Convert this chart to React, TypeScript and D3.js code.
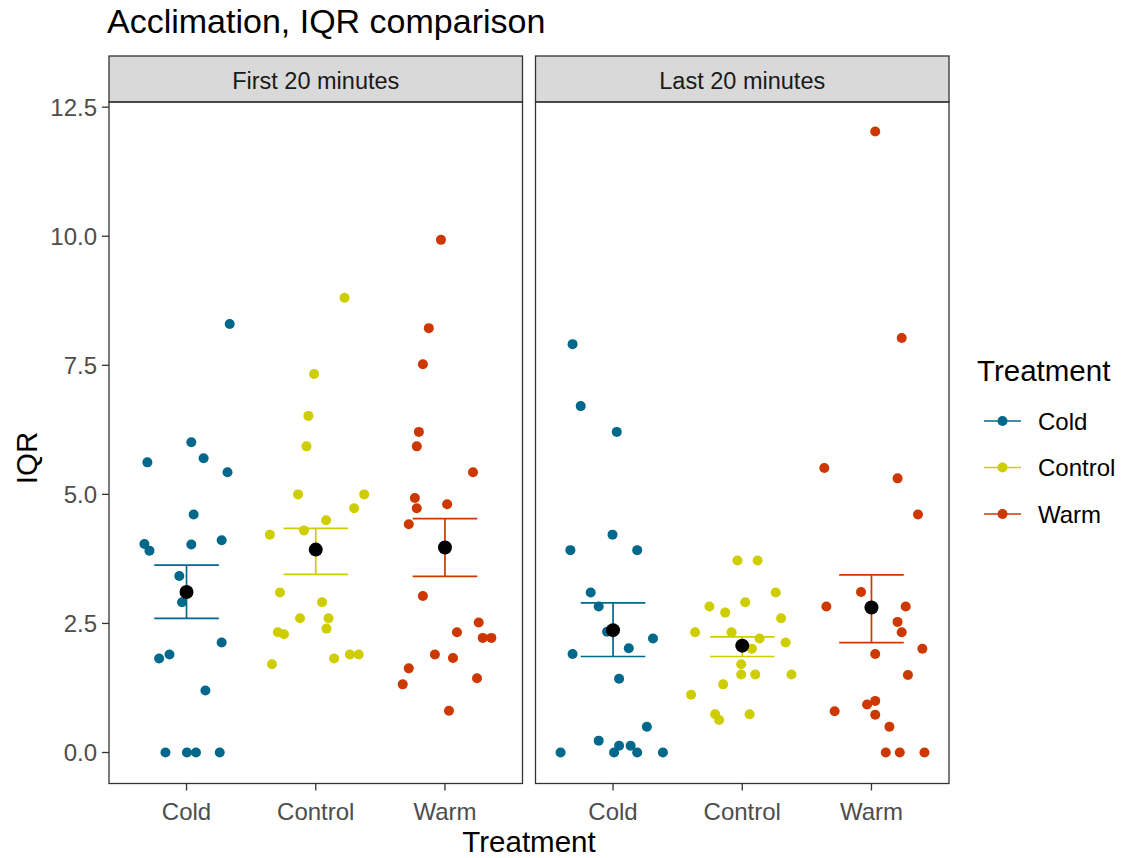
import React from "react";
import * as d3 from "d3";

// treatment levels and facet panels
const treatments = ["Cold", "Control", "Warm"];
const periods = ["First 20 minutes", "Last 20 minutes"];

// IQR values, with horizontal jitter (category units)
const firstColdIQR = [8.3, 6.01, 5.7, 5.62, 5.43, 4.61, 4.04, 3.91, 4.03, 4.11, 3.42, 2.91, 2.13, 1.82, 1.9, 1.2, 0, 0, 0, 0];
const firstColdJitter = [0.334, 0.037, 0.132, -0.303, 0.317, 0.055, -0.326, -0.287, 0.037, 0.272, -0.056, -0.035, 0.272, -0.212, -0.132, 0.146, -0.163, 0.003, 0.073, 0.257];

const firstControlIQR = [8.81, 7.33, 6.52, 5.93, 5.0, 5.0, 4.73, 4.5, 4.3, 4.22, 3.1, 2.91, 2.6, 2.6, 2.4, 2.33, 2.29, 1.82, 1.9, 1.9, 1.71];
const firstControlJitter = [0.223, -0.013, -0.057, -0.072, -0.137, 0.375, 0.297, 0.08, -0.091, -0.355, -0.277, 0.049, -0.122, 0.099, 0.083, -0.293, -0.246, 0.142, 0.264, 0.332, -0.339];

const firstWarmIQR = [9.93, 8.22, 7.52, 6.21, 5.93, 5.43, 4.93, 4.73, 4.81, 4.42, 3.03, 2.52, 2.33, 2.22, 2.22, 1.9, 1.83, 1.63, 1.44, 1.32, 0.81];
const firstWarmJitter = [-0.031, -0.125, -0.171, -0.202, -0.218, 0.217, -0.233, -0.218, 0.017, -0.28, -0.171, 0.261, 0.093, 0.292, 0.359, -0.078, 0.062, -0.28, 0.248, -0.327, 0.031];

const lastColdIQR = [7.91, 6.71, 6.21, 4.22, 3.92, 3.92, 3.1, 2.83, 2.34, 2.21, 2.02, 1.91, 1.43, 0.5, 0.23, 0.13, 0.13, 0, 0, 0, 0];
const lastColdJitter = [-0.313, -0.25, 0.029, -0.004, -0.33, 0.187, -0.173, -0.111, -0.046, 0.309, 0.122, -0.313, 0.047, 0.262, -0.111, 0.047, 0.136, -0.406, 0.008, 0.187, 0.386];

const lastControlIQR = [3.72, 3.72, 3.1, 2.91, 2.83, 2.71, 2.6, 2.33, 2.33, 2.21, 2.13, 2.01, 1.71, 1.51, 1.51, 1.51, 1.32, 1.12, 0.74, 0.63, 0.74];
const lastControlJitter = [-0.037, 0.119, 0.259, 0.023, -0.254, -0.132, 0.301, -0.365, -0.083, 0.134, 0.336, 0.075, -0.008, -0.008, 0.101, 0.381, -0.148, -0.396, -0.21, -0.179, 0.057];

const lastWarmIQR = [12.03, 8.03, 5.51, 5.31, 4.61, 3.11, 2.83, 2.83, 2.53, 2.33, 1.91, 2.01, 1.5, 0.8, 0.93, 1.0, 0.73, 0.5, 0, 0, 0];
const lastWarmJitter = [0.029, 0.234, -0.365, 0.202, 0.36, -0.081, -0.349, 0.265, 0.202, 0.234, 0.029, 0.394, 0.282, -0.285, -0.034, 0.029, 0.029, 0.139, 0.111, 0.219, 0.41];

// mean +/- se per treatment
const firstMean = [3.11, 3.93, 3.97];
const firstLower = [2.6, 3.45, 3.41];
const firstUpper = [3.63, 4.34, 4.53];
const lastMean = [2.37, 2.07, 2.81];
const lastLower = [1.86, 1.86, 2.13];
const lastUpper = [2.9, 2.24, 3.44];

const yTicks = [0, 2.5, 5, 7.5, 10, 12.5];

const palette: Record<string, string> = {
  Cold: "#00688B",
  Control: "#CDCD00",
  Warm: "#CD3700",
};

const panels = [
  {
    label: periods[0],
    groups: [
      { t: "Cold", v: firstColdIQR, j: firstColdJitter },
      { t: "Control", v: firstControlIQR, j: firstControlJitter },
      { t: "Warm", v: firstWarmIQR, j: firstWarmJitter },
    ],
    mean: firstMean,
    lo: firstLower,
    hi: firstUpper,
  },
  {
    label: periods[1],
    groups: [
      { t: "Cold", v: lastColdIQR, j: lastColdJitter },
      { t: "Control", v: lastControlIQR, j: lastControlJitter },
      { t: "Warm", v: lastWarmIQR, j: lastWarmJitter },
    ],
    mean: lastMean,
    lo: lastLower,
    hi: lastUpper,
  },
];

const W = 1121;
const H = 858;
const panelLeft = [109, 535.5];
const panelW = 413.5;
const stripTop = 56;
const stripH = 46;
const panelTop = stripTop + stripH;
const panelBottom = 783.5;
const font = "'Liberation Sans', Arial, sans-serif";

const y = d3.scaleLinear().domain([-0.6, 12.6]).range([panelBottom, panelTop]);

const App: React.FC = () => {
  return (
    <svg
      width={W}
      height={H}
      style={{ position: "absolute", left: 0, top: 0, background: "#fff" }}
      fontFamily={font}
    >
      <rect width={W} height={H} fill="#fff" />
      <text x={107} y={33} fontSize={34} fill="#000">
        Acclimation, IQR comparison
      </text>

      {panels.map((p, pi) => {
        const left = panelLeft[pi];
        const x = d3
          .scaleLinear()
          .domain([0.4, 3.6])
          .range([left, left + panelW]);
        return (
          <g key={p.label}>
            {/* strip */}
            <rect
              x={left}
              y={stripTop}
              width={panelW}
              height={stripH}
              fill="#D9D9D9"
              stroke="#333"
              strokeWidth={1.3}
            />
            <text
              x={left + panelW / 2}
              y={stripTop + stripH / 2 + 9.5}
              fontSize={23.5}
              textAnchor="middle"
              fill="#1A1A1A"
            >
              {p.label}
            </text>

            {/* points */}
            {p.groups.map((g, gi) =>
              g.v.map((v, k) => (
                <circle
                  key={`${g.t}-${k}`}
                  cx={x(gi + 1 + g.j[k])}
                  cy={y(v)}
                  r={5}
                  fill={palette[g.t]}
                />
              ))
            )}

            {/* error bars */}
            {treatments.map((t, gi) => {
              const cx = x(gi + 1);
              const hw = x(gi + 1.25) - cx;
              return (
                <g key={t} stroke={palette[t]} strokeWidth={1.7}>
                  <line x1={cx - hw} x2={cx + hw} y1={y(p.hi[gi])} y2={y(p.hi[gi])} />
                  <line x1={cx - hw} x2={cx + hw} y1={y(p.lo[gi])} y2={y(p.lo[gi])} />
                  <line x1={cx} x2={cx} y1={y(p.hi[gi])} y2={y(p.lo[gi])} />
                </g>
              );
            })}
            {treatments.map((t, gi) => (
              <circle key={t} cx={x(gi + 1)} cy={y(p.mean[gi])} r={7} fill="#000" />
            ))}

            {/* panel border */}
            <rect
              x={left}
              y={panelTop}
              width={panelW}
              height={panelBottom - panelTop}
              fill="none"
              stroke="#333"
              strokeWidth={1.3}
            />

            {/* x axis ticks */}
            {treatments.map((t, gi) => (
              <g key={t}>
                <line
                  x1={x(gi + 1)}
                  x2={x(gi + 1)}
                  y1={panelBottom}
                  y2={panelBottom + 7}
                  stroke="#333"
                  strokeWidth={1.3}
                />
                <text
                  x={x(gi + 1)}
                  y={panelBottom + 36}
                  fontSize={24}
                  textAnchor="middle"
                  fill="#4D4D4D"
                >
                  {t}
                </text>
              </g>
            ))}
          </g>
        );
      })}

      {/* y axis */}
      {yTicks.map((t) => (
        <g key={t}>
          <line
            x1={panelLeft[0] - 7}
            x2={panelLeft[0]}
            y1={y(t)}
            y2={y(t)}
            stroke="#333"
            strokeWidth={1.3}
          />
          <text
            x={panelLeft[0] - 12}
            y={y(t) + 8.5}
            fontSize={24}
            textAnchor="end"
            fill="#4D4D4D"
          >
            {d3.format(".1f")(t)}
          </text>
        </g>
      ))}

      <text
        transform={`translate(37,458) rotate(-90)`}
        fontSize={29.5}
        textAnchor="middle"
        fill="#000"
      >
        IQR
      </text>
      <text x={529} y={852} fontSize={29.5} textAnchor="middle" fill="#000">
        Treatment
      </text>

      {/* legend */}
      <text x={977} y={381} fontSize={29.5} fill="#000">
        Treatment
      </text>
      {treatments.map((t, i) => {
        const ly = 421 + i * 46.5;
        return (
          <g key={t}>
            <line x1={984} x2={1021} y1={ly} y2={ly} stroke={palette[t]} strokeWidth={1.7} />
            <circle cx={1002.5} cy={ly} r={5} fill={palette[t]} />
            <text x={1038} y={ly + 8.5} fontSize={24} fill="#000">
              {t}
            </text>
          </g>
        );
      })}
    </svg>
  );
};

export default App;
